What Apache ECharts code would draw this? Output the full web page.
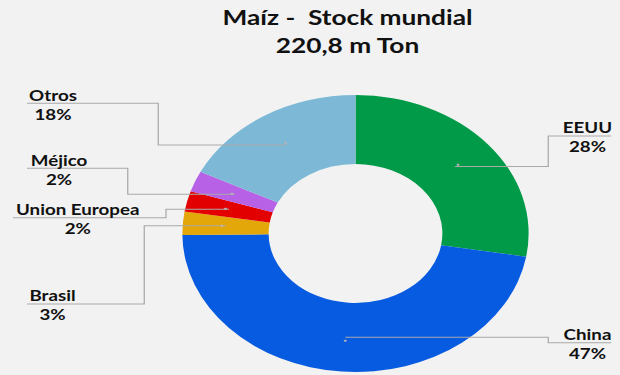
<!DOCTYPE html>
<html><head><meta charset="utf-8">
<script src="https://cdn.jsdelivr.net/npm/echarts@6/dist/echarts.min.js"></script>
<style>
html,body{margin:0;padding:0;background:#F2F2F2;overflow:hidden;}
#wrap{width:620px;height:375px;overflow:hidden;position:relative;}
#chart{width:496px;height:375px;transform:scaleX(1.25);transform-origin:0 0;}
</style></head><body><div id="wrap"><div id="chart"></div></div>
<script>
// ---- data ----
const categories = ['EEUU', 'China', 'Brasil', 'Union Europea', 'Méjico', 'Otros'];
const shares = [27.6, 47.0, 2.7, 2.4, 2.4, 17.6];
const titleLines = ['Maíz -  Stock mundial', '220,8 m Ton'];

// ---- style / layout (chart is drawn 496px wide, then stretched 1.25x horizontally) ----
const colors = ['#009A48', '#075BE0', '#E3A70A', '#E20000', '#B661E6', '#7DB9D6'];
const CX = 284.4, CY = 233.5, R0 = 69.5, R1 = 138.5;
const labelCfg = {
  cx:    [470, 470, 42, 62.2, 47.2, 42.4],
  lineY: [136, 342.7, 304, 217.7, 168.3, 103.3],
  elbow: [438.6, 438.6, 115.4, 132.8, 102.2, 126.6],
  end:   [489, 489, 21.6, 10.4, 21.6, 21.6]
};

const chart = echarts.init(document.getElementById('chart'), null, {renderer: 'svg'});
const txt = {fontFamily: 'Lato', fontWeight: 'bold', color: '#111111'};
const basePie = {
  type: 'pie', center: [CX, CY], radius: [R0, R1], startAngle: 90, clockwise: true,
  avoidLabelOverlap: false, emphasis: {disabled: true}
};
const rawData = () => categories.map((c, i) => ({name: c, value: shares[i]}));
chart.setOption({
  backgroundColor: '#F2F2F2',
  animation: false,
  title: {
    text: titleLines.join('\n'),
    left: 278, top: 3, textAlign: 'center', padding: 0,
    textStyle: Object.assign({}, txt, {fontSize: 21, lineHeight: 28})
  },
  series: [
    Object.assign({}, basePie, {
      z: 2,
      data: categories.map((c, i) => ({name: c, value: shares[i], itemStyle: {color: colors[i]}})),
      label: {show: false}, labelLine: {show: false}
    }),
    Object.assign({}, basePie, {
      // transparent copy that carries labels and leader lines above the ring
      z: 5,
      silent: true,
      data: rawData(),
      itemStyle: {color: 'rgba(0,0,0,0)'},
      label: {
        show: true, position: 'outside',
        formatter: p => '{n|' + p.name + '}\n{p|' + Math.round(p.value) + '%}',
        rich: {
          n: Object.assign({}, txt, {fontSize: 15, lineHeight: 19}),
          p: Object.assign({}, txt, {fontSize: 15, lineHeight: 19})
        }
      },
      labelLine: {show: true, length: 8, length2: 8, lineStyle: {color: '#A9A9A9', width: 1}},
      labelLayout: function (params) {
        const i = params.dataIndex;
        const p0 = params.labelLinePoints[0];
        const a = Math.atan2(p0[1] - CY, p0[0] - CX);
        const rm = (R0 + R1) / 2;
        const dot = [CX + Math.cos(a) * rm, CY + Math.sin(a) * rm];
        const ly = labelCfg.lineY[i];
        return {
          x: labelCfg.cx[i], y: ly + 1, align: 'center', verticalAlign: 'middle',
          labelLinePoints: [dot, [labelCfg.elbow[i], dot[1]], [labelCfg.elbow[i], ly], [labelCfg.end[i], ly]]
        };
      }
    }),
    Object.assign({}, basePie, {
      // small anchor dots at the start of each leader line
      z: 6,
      silent: true,
      data: rawData(),
      itemStyle: {color: 'rgba(0,0,0,0)'},
      label: {show: true, position: 'inside', formatter: '●', fontSize: 5, color: '#B5B5B5'},
      labelLine: {show: false}
    })
  ]
});
</script></body></html>
